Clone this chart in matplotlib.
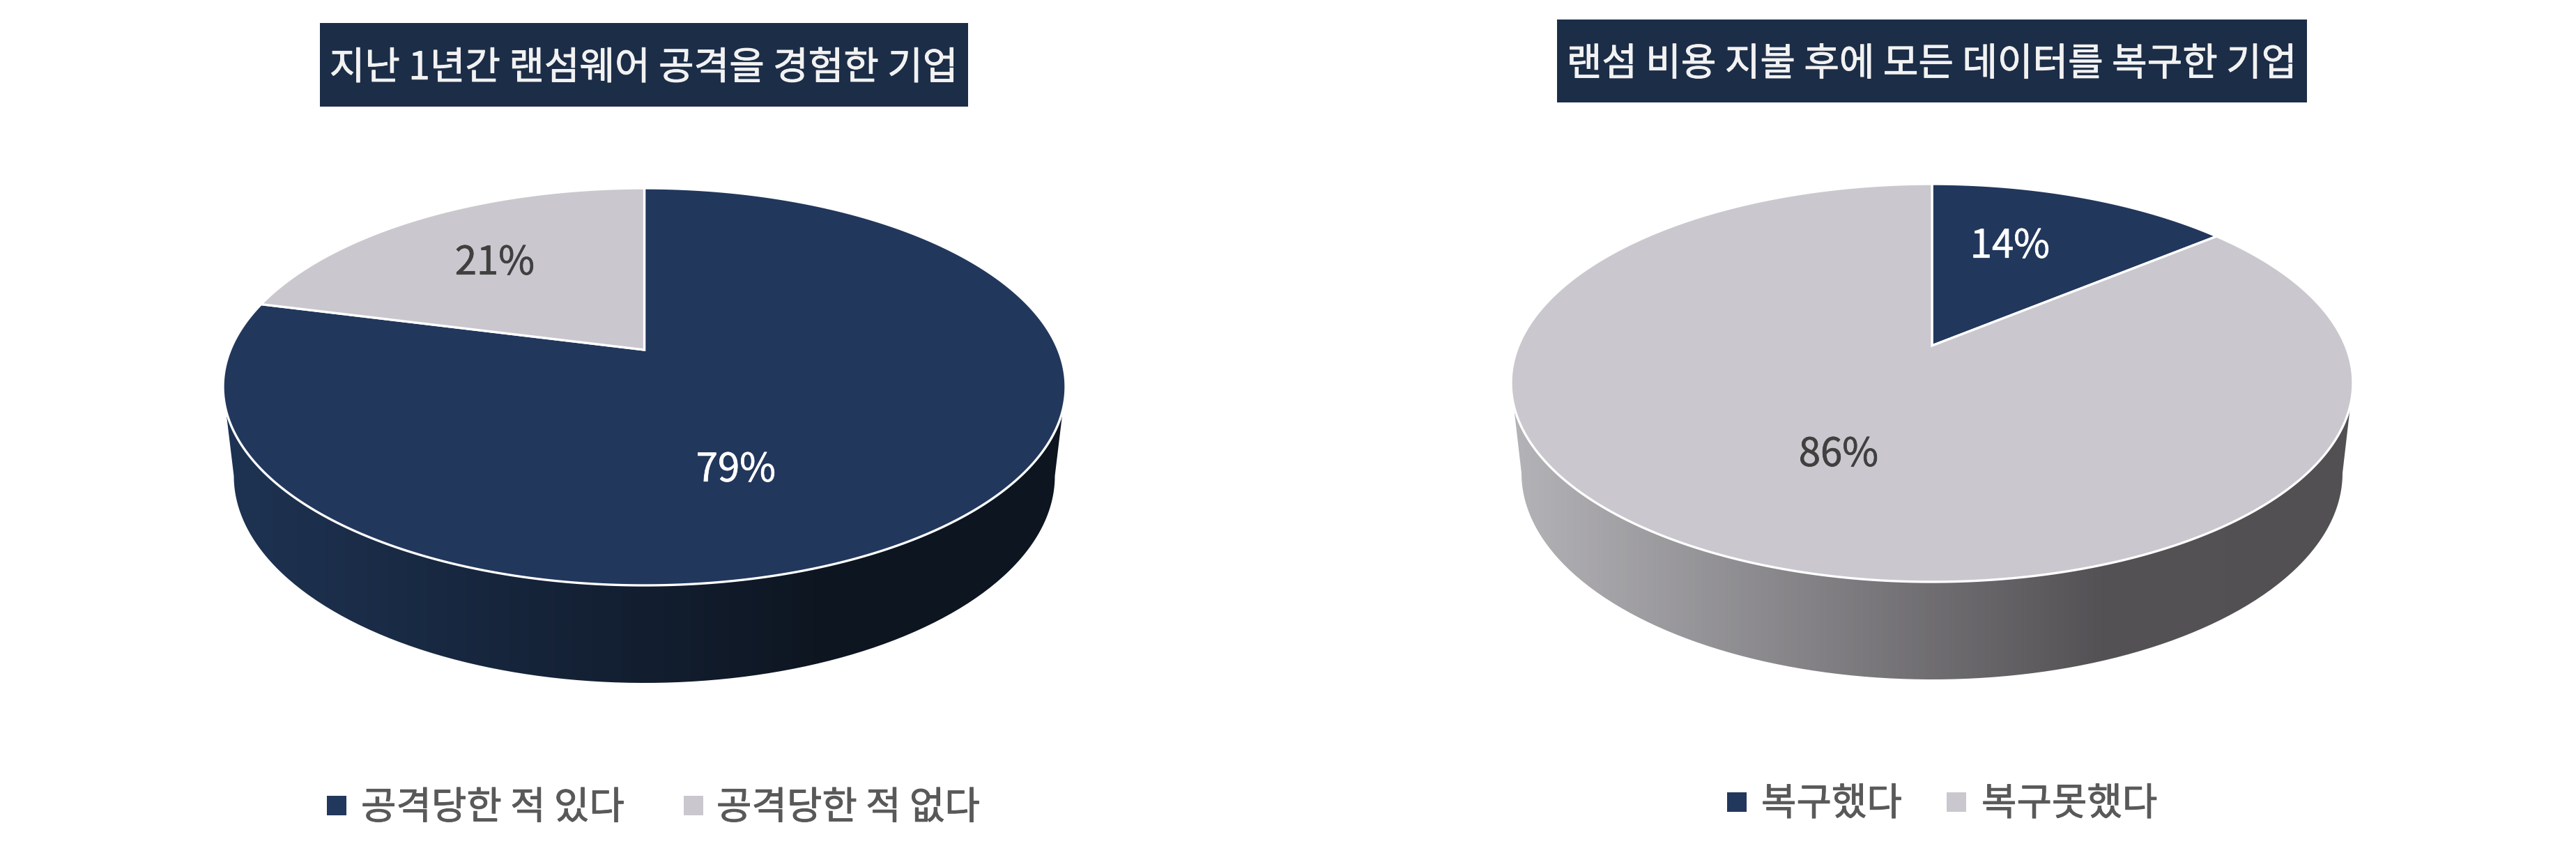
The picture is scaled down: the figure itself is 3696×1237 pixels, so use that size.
import numpy as np
import matplotlib
matplotlib.use("Agg")
import matplotlib.pyplot as plt
from matplotlib.colors import LinearSegmentedColormap
from matplotlib.patches import Polygon, Rectangle, PathPatch
from matplotlib.path import Path
import matplotlib.patheffects as pe

plt.rcParams['font.family'] = ['Noto Sans CJK KR', 'DejaVu Sans']

# ---- data ----
titles = ["지난 1년간 랜섬웨어 공격을 경험한 기업", "랜섬 비용 지불 후에 모든 데이터를 복구한 기업"]
left_labels = ["공격당한 적 있다", "공격당한 적 없다"]
left_values = [79, 21]
right_labels = ["복구했다", "복구못했다"]
right_values = [14, 86]

# ---- style ----
NAVY, GRAY = "#22375C", "#CAC8CE"
TEXT_COLORS = ["white", "#404040"]
SIDE = {NAVY: ["#1E3353", "#0E1622", "#0D1520"], GRAY: ["#B4B3B7", "#545255", "#525053"]}
W, H = 3696, 1237


def bolder(color, lw=0.7):
    return [pe.withStroke(linewidth=lw, foreground=color)]


# ---- layout (pixels) ----
panels = [
    dict(values=left_values, labels=left_labels, title=titles[0], cx=924.5, top=270, apex=502, bottom=840,
         rx=604.5, bot_cy=683, bot_rx=589, bot_ry=297, box=(459, 33, 1389, 153),
         label_xy=[(1056, 675), (710, 378)],
         legend=[(469, 518), (981, 1028)], legend_y=1156),
    dict(values=right_values, labels=right_labels, title=titles[1], cx=2772, top=264, apex=496, bottom=835,
         rx=604, bot_cy=679, bot_rx=589, bot_ry=296, box=(2234, 28, 3310, 147),
         label_xy=[(2884, 354), (2638, 653)],
         legend=[(2478, 2527), (2793, 2843)], legend_y=1150.5),
]

fig = plt.figure(figsize=(W / 100, H / 100), dpi=100, facecolor="white")
ax = fig.add_axes([0, 0, 1, 1])


def project(u, v, p):
    """perspective projection of the unit disc on to the tilted pie top"""
    up, down = p['apex'] - p['top'], p['bottom'] - p['apex']
    k = (down - up) / (down + up)
    a = up * (1 + k)
    c = p['rx'] * np.sqrt(1 - k * k)
    d = 1 + k * v
    return p['cx'] + c * u / d, p['apex'] - a * v / d


for p in panels:
    colors = [NAVY, GRAY]
    vals = np.array(p['values'], float)
    edges = np.concatenate([[0], np.cumsum(vals)]) / vals.sum() * 2 * np.pi

    # side wall, gradient clipped to the visible front band
    front = next(c for c, a, b in zip(colors, edges[:-1], edges[1:]) if a <= np.pi < b)
    cy = (p['top'] + p['bottom']) / 2
    ry = (p['bottom'] - p['top']) / 2
    t = np.linspace(np.pi, 0, 200)
    tx, ty = p['cx'] + p['rx'] * np.cos(t), cy + ry * np.sin(t)
    bx, by = p['cx'] + p['bot_rx'] * np.cos(t), p['bot_cy'] + p['bot_ry'] * np.sin(t)
    verts = np.column_stack([np.r_[bx, tx[::-1]], np.r_[by, ty[::-1]]])
    clip = PathPatch(Path(np.vstack([verts, verts[0]])), fc='none', ec='none', transform=ax.transData)
    ax.add_patch(clip)
    cmap = LinearSegmentedColormap.from_list("side", list(zip([0, .70, 1], SIDE[front])))
    im = ax.imshow(np.linspace(0, 1, 512)[None, :], cmap=cmap, aspect='auto', vmin=0, vmax=1,
                   extent=(p['cx'] - p['rx'], p['cx'] + p['rx'], p['bot_cy'] + p['bot_ry'], cy), zorder=1)
    im.set_clip_path(clip)

    # top face wedges
    for c, a, b in zip(colors, edges[:-1], edges[1:]):
        th = np.linspace(a, b, 400)
        x, y = project(np.sin(th), np.cos(th), p)
        ax0, ay0 = project(0.0, 0.0, p)
        ax.add_patch(Polygon(np.column_stack([np.r_[ax0, x], np.r_[ay0, y]]), closed=True,
                             fc=c, ec="white", lw=2.4, joinstyle='miter', zorder=2))

    # value labels
    for v, (lx, ly), tc in zip(p['values'], p['label_xy'], TEXT_COLORS):
        ax.text(lx, ly, f"{v}%", color=tc, fontsize=40.5, ha='center', va='center', zorder=3,
                path_effects=bolder(tc, 0.5))

    # title banner
    x0, y0, x1, y1 = p['box']
    ax.add_patch(Rectangle((x0, y0), x1 - x0, y1 - y0, fc="#1C2D47", ec='none', zorder=3))
    ax.text((x0 + x1) / 2, (y0 + y1) / 2 + 5, p['title'], color="#F2F2F2", fontsize=39.6, ha='center',
            va='center', zorder=4, path_effects=bolder("#F2F2F2"))

    # legend
    for c, lab, (sx, tx0) in zip(colors, p['labels'], p['legend']):
        ax.add_patch(Rectangle((sx, p['legend_y'] - 14), 28, 28, fc=c, ec='none', zorder=3))
        ax.text(tx0, p['legend_y'] + 3.5, lab, color="#595959", fontsize=39.5, ha='left', va='center',
                zorder=3, path_effects=bolder("#595959"))

ax.set_xlim(0, W)
ax.set_ylim(H, 0)
ax.axis('off')
fig.savefig("out.png", dpi=100, facecolor="white")
